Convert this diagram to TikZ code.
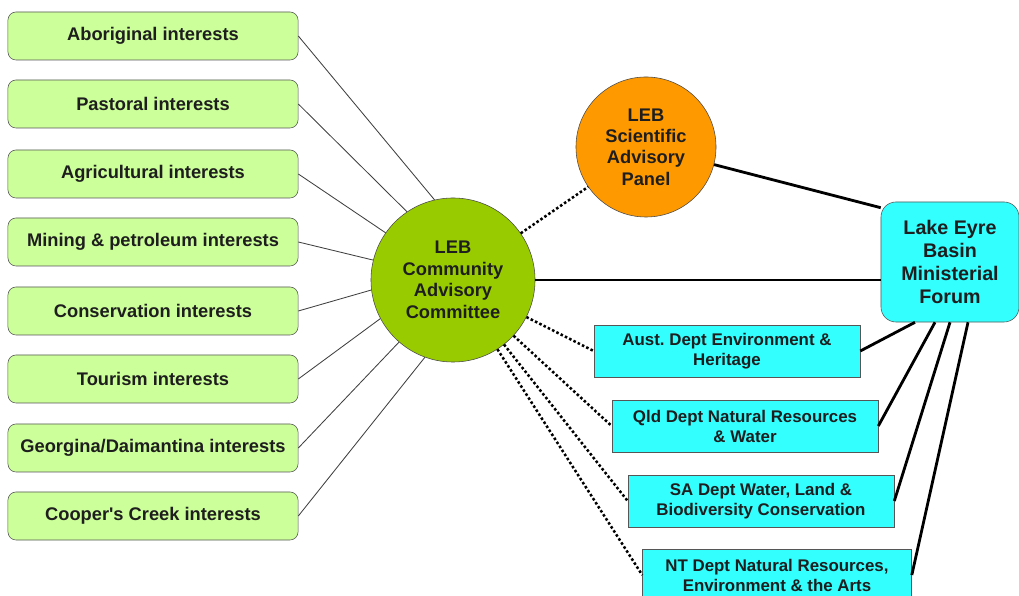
\documentclass[tikz,border=0pt]{standalone}
\usepackage{fontspec}
\setmainfont{Liberation Sans}
\usepackage{tikz}

\definecolor{interestgreen}{HTML}{CCFF99}
\definecolor{leafgreen}{HTML}{99CC00}
\definecolor{panelorange}{HTML}{FF9900}
\definecolor{forumcyan}{HTML}{33FFFF}
\definecolor{inkgray}{HTML}{1E1E1E}

\tikzset{
    interest/.style={draw=inkgray!75, fill=interestgreen, rounded corners=0.2cm,
        minimum width=7.25cm, minimum height=1.2cm, inner sep=0pt, text=inkgray,
        font=\fontsize{13}{15}\selectfont\bfseries},
    committee/.style={circle, draw=inkgray!80, fill=leafgreen, minimum size=4.1cm,
        inner sep=0pt, align=center, text=inkgray, font=\fontsize{13}{15.3}\selectfont\bfseries},
    panel/.style={circle, draw=inkgray!80, fill=panelorange, minimum size=3.5cm,
        inner sep=0pt, align=center, text=inkgray, font=\fontsize{13}{15.1}\selectfont\bfseries},
    forum/.style={draw=inkgray!75, fill=forumcyan, rounded corners=0.375cm,
        minimum width=3.45cm, minimum height=3cm, inner sep=0pt, align=center,
        text=inkgray, font=\fontsize{14}{16.3}\selectfont\bfseries},
    dept/.style={draw=inkgray!75, fill=forumcyan, minimum width=6.65cm,
        minimum height=1.3cm, inner sep=0pt, align=center, text=inkgray,
        font=\fontsize{12}{14.2}\selectfont\bfseries},
    link/.style={draw=inkgray!85, line width=0.6pt},
    tie/.style={draw=black, line width=2pt},
    adviselink/.style={draw=black, line width=1.8pt, dash pattern=on 1.8pt off 1.6pt}
}

\begin{document}
\begin{tikzpicture}[x=0.025cm, y=0.025cm]
    \clip (0,0) rectangle (1019,596);
    \fill[white] (0,0) rectangle (1019,596);

    % interest groups down the left side
    \foreach \i/\y/\txt in {1/560/Aboriginal interests, 2/492/Pastoral interests,
            3/422/Agricultural interests, 4/354/Mining \& petroleum interests,
            5/285/Conservation interests, 6/217/Tourism interests,
            7/148/{Georgina/Daimantina interests},
            8/80/{Cooper\textquotesingle s Creek interests}}
        \node[interest] (g\i) at (153,\y) {\txt};

    \node[committee] (cac) at (453,316) {LEB\\Community\\Advisory\\Committee};
    \node[panel] (sap) at (646,449) {LEB\\Scientific\\Advisory\\Panel};
    \node[forum] (forum) at (950,334) {Lake Eyre\\Basin\\Ministerial\\Forum};

    \node[dept] (aust) at (727,245) {Aust.\ Dept Environment \&\\Heritage};
    \node[dept] (qld) at (745,170) {Qld Dept Natural Resources\\\& Water};
    \node[dept] (sa) at (761,95) {SA Dept Water, Land \&\\Biodiversity Conservation};
    \node[dept, minimum width=6.725cm] (nt) at (777,21) {NT Dept Natural Resources,\\Environment \& the Arts};

    % interests feed the committee
    \foreach \i [evaluate=\i as \a using 82+21*\i] in {1,...,8}
        \draw[link] (g\i.east) -- (cac.\a);

    % advice links
    \draw[adviselink] (cac) -- (sap);
    \foreach \d in {aust,qld,sa,nt}
        \draw[adviselink] (cac) -- (\d.west);

    % reporting to the forum
    \draw[tie] (cac.east) -- (cac.east -| forum.west);
    \draw[tie] (sap) -- ([yshift=-0.15cm]forum.north west);
    \draw[tie] (aust.east) -- ([xshift=-0.875cm]forum.south);
    \draw[tie] (qld.east) -- ([xshift=-0.375cm]forum.south);
    \draw[tie] (sa.east) -- (forum.south);
    \draw[tie] (nt.east) -- ([xshift=0.45cm]forum.south);
\end{tikzpicture}
\end{document}
